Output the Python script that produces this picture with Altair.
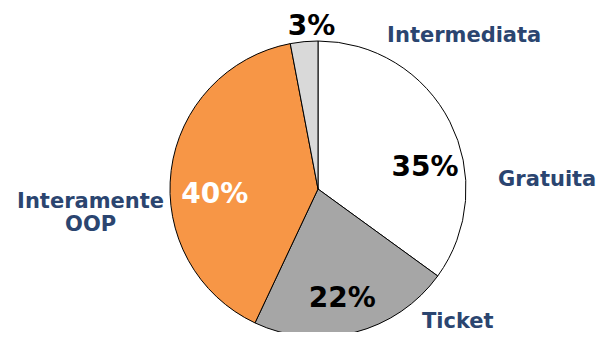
import altair as alt
import pandas as pd

# ---- data ----
categories = ["Gratuita", "Ticket", "Interamente OOP", "Intermediata"]
label_lines = [["Gratuita"], ["Ticket"], ["Interamente", "OOP"], ["Intermediata"]]
shares = [35, 22, 40, 3]
pct_labels = ["35%", "22%", "40%", "3%"]

# ---- styles ----
slice_colors = ["#FFFFFF", "#A6A6A6", "#F79646", "#D9D9D9"]
pct_colors = ["#000000", "#000000", "#FFFFFF", "#000000"]
navy = "#2B4570"
FONT = "DejaVu Sans"

# label layout: (radius, dx, dy)
pct_layout = [(110, 9, 29), (110, -3, 3), (110, 6, 20), (165, 9, 2)]
name_layout = [(200, 51, 82), (200, 90, -61), (200, -29, 38), (200, 165, 46)]

df = pd.DataFrame({
    "cat": categories,
    "share": shares,
    "pct": pct_labels,
    "idx": list(range(len(categories))),
})

base = alt.Chart(df).encode(
    theta=alt.Theta("share:Q", stack=True),
    order=alt.Order("idx:Q"),
)

pie = base.mark_arc(outerRadius=148, stroke="black", strokeWidth=1).encode(
    color=alt.Color("cat:N", scale=alt.Scale(domain=categories, range=slice_colors), legend=None)
)

layers = [pie]
for i, cat in enumerate(categories):
    r, dx, dy = pct_layout[i]
    layers.append(
        base.mark_text(radius=r, dx=dx, dy=dy, font=FONT, fontSize=28, fontWeight="bold",
                       color=pct_colors[i], align="center", baseline="middle").encode(
            text=alt.condition(f"datum.cat == '{cat}'", alt.Text("pct:N"), alt.value(""))
        )
    )
    r, dx, dy = name_layout[i]
    lines = label_lines[i]
    layers.append(
        base.mark_text(radius=r, dx=dx, dy=dy, font=FONT, fontSize=21, fontWeight="bold",
                       color=navy, align="center", baseline="middle", lineHeight=23).encode(
            text=alt.condition(f"datum.cat == '{cat}'", alt.value(lines), alt.value(""))
        )
    )

chart = alt.layer(*layers).properties(
    width=420,
    height=286,
    autosize=alt.AutoSizeParams(type="none"),
    padding={"left": 100, "top": 38, "right": 68, "bottom": 0},
    background="white",
).configure_view(stroke=None)

chart.save("out.html", embed_options={"renderer": "svg", "actions": False})
